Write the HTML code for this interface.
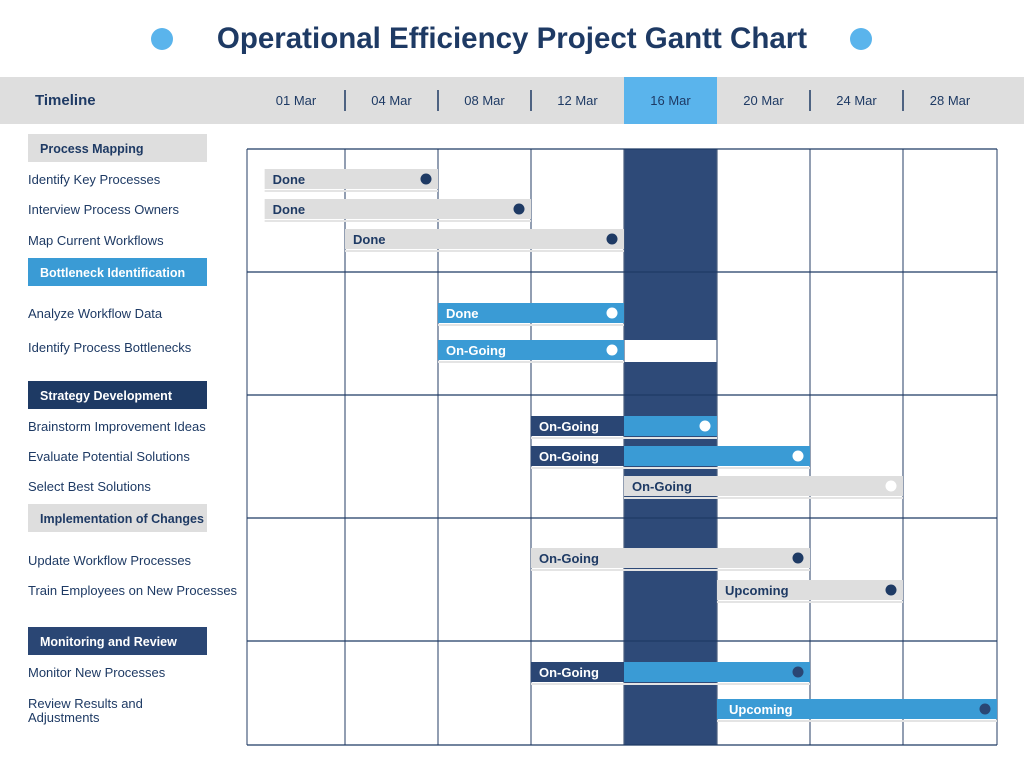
<!DOCTYPE html>
<html><head><meta charset="utf-8"><style>
body{margin:0;width:1024px;height:768px;background:#fff;font-family:"Liberation Sans",sans-serif;overflow:hidden;position:relative}
</style></head><body>
<svg width="1024" height="768" style="position:absolute;left:0;top:0">
<text x="512" y="48" text-anchor="middle" font-size="29.5" font-weight="bold" fill="#1e3a64">Operational Efficiency Project Gantt Chart</text>
<circle cx="162" cy="39" r="11" fill="#5ab4ec"/>
<circle cx="861" cy="39" r="11" fill="#5ab4ec"/>
<rect x="0" y="77" width="1024" height="47" fill="#dedede"/>
<text x="35" y="105" font-size="15" font-weight="bold" fill="#1e3a64">Timeline</text>
<g id="hdr"></g>
<g id="left"></g>
<g id="grid"></g>
<g id="bars"></g>
</svg>
<script>
const dates=["01 Mar","04 Mar","08 Mar","12 Mar","16 Mar","20 Mar","24 Mar","28 Mar"];
const currentIndex=4;
const sections=["Process Mapping","Bottleneck Identification","Strategy Development","Implementation of Changes","Monitoring and Review"];
const tasks=["Identify Key Processes","Interview Process Owners","Map Current Workflows","Analyze Workflow Data","Identify Process Bottlenecks","Brainstorm Improvement Ideas","Evaluate Potential Solutions","Select Best Solutions","Update Workflow Processes","Train Employees on New Processes","Monitor New Processes","Review Results and|Adjustments"];
const taskSection=[0,0,0,1,1,2,2,2,3,3,4,4];
const taskStart=[0.18,0.18,1.0,2.0,2.0,3.0,3.0,4.0,3.0,5.0,3.0,5.0];
const taskEnd=[2.0,3.0,4.0,4.0,4.0,5.0,6.0,7.0,6.0,7.0,6.0,8.0];
const taskStatus=["Done","Done","Done","Done","On-Going","On-Going","On-Going","On-Going","On-Going","Upcoming","On-Going","Upcoming"];
const taskStyle=["grey","grey","grey","blue","blue","split","split","greyW","grey","grey","split2","blue2"];
const NS="http://www.w3.org/2000/svg";
const edges=[247,345,438,531,624,717,810,903,997];
const Y0=149,Y1=745,X0=edges[0],X1=edges[edges.length-1];
const xs=u=>{const i=Math.max(0,Math.min(edges.length-2,Math.floor(u)));return edges[i]+(u-i)*(edges[i+1]-edges[i]);};
const taskY=[179,209,239,313,350,426,456,486,558,590,672,709];
const labelY=[179,209,240,313,347,426,456,486,560,590,672,703];
const secY=[149,272,395,518,641];
const secStyle=[["#dedede","#1e3a64"],["#3a9bd5","#fff"],["#1e3a64","#fff"],["#dedede","#1e3a64"],["#2a4674","#fff"]];
function mk(t,a,p){const e=document.createElementNS(NS,t);for(const k in a)e.setAttribute(k,a[k]);p.appendChild(e);return e;}
const hdr=document.getElementById('hdr');
dates.forEach((d,i)=>{
  if(i===currentIndex){const r=mk('rect',{x:xs(i),y:77,width:xs(i+1)-xs(i),height:47,fill:'#5ab4ec'},hdr);
  
  }
  const t=mk('text',{x:(xs(i)+xs(i+1))/2,y:105,'text-anchor':'middle','font-size':13,fill:'#1e3a64'},hdr);t.textContent=d;
  
  
  if(i>0&&i!==currentIndex&&i!==currentIndex+1){mk('line',{x1:xs(i),x2:xs(i),y1:90,y2:111,stroke:'#1e3a64','stroke-width':1.5},hdr);}
});
const left=document.getElementById('left');
sections.forEach((s,i)=>{
  const y=[134,258,381,504,627][i];
  const r=mk('rect',{x:28,y:y,width:179,height:28,fill:secStyle[i][0]},left);
  
  
  const t=mk('text',{x:40,y:y+19,'font-size':12.5,'font-weight':'bold',fill:secStyle[i][1]},left);t.textContent=s;
  
  
});
tasks.forEach((s,i)=>{
  s.split('|').forEach((line,j)=>{
  const t=mk('text',{x:28,y:labelY[i]+5+j*14,'font-size':13,fill:'#1e3a64'},left);t.textContent=line;
  
  });
});
const grid=document.getElementById('grid');
const hl=mk('rect',{x:xs(currentIndex),y:Y0,width:xs(currentIndex+1)-xs(currentIndex),height:Y1-Y0,fill:'#2e4a78'},grid);


mk('rect',{x:xs(currentIndex),y:340,width:xs(currentIndex+1)-xs(currentIndex),height:22,fill:'#fff'},grid);
for(let i=0;i<=dates.length;i++)mk('line',{x1:xs(i),x2:xs(i),y1:Y0,y2:Y1,stroke:'#4a5e7e','stroke-width':1.2},grid);
secY.concat([Y1]).forEach(y=>mk('line',{x1:X0,x2:X1,y1:y,y2:y,stroke:'#1e3a64','stroke-width':1.2},grid));
const bars=document.getElementById('bars');
tasks.forEach((s,i)=>{
  const a=xs(taskStart[i]),b=xs(taskEnd[i]),y=taskY[i]-10,st=taskStyle[i];
  const g=mk('g',{},bars);
  
  
  let fill='#dedede',tc='#1e3a64',dot='#1e3a64';
  if(st==='blue'){fill='#3a9bd5';tc='#fff';dot='#fff';}
  if(st==='blue2'){fill='#3a9bd5';tc='#fff';dot='#2a4674';}
  if(st==='greyW'){dot='#fff';}
  if(st==='split'||st==='split2'){fill='#3a9bd5';tc='#fff';dot=st==='split'?'#fff':'#2a4674';}
  mk('rect',{x:a,y:y,width:b-a,height:20,fill:fill},g);
  if(st==='split'||st==='split2'){const m=xs(currentIndex);mk('rect',{x:a,y:y,width:m-a,height:20,fill:'#2a4674'},g);}
  mk('line',{x1:a,x2:b,y1:y+22,y2:y+22,stroke:'#e4e4e4','stroke-width':2},g);
  const t=mk('text',{x:a+(st==='blue2'?12:8),y:y+15,'font-size':13,'font-weight':'bold',fill:tc},g);t.textContent=taskStatus[i];
  mk('circle',{cx:b-12,cy:y+10,r:5.5,fill:dot},g);
});
</script>
</body></html>
